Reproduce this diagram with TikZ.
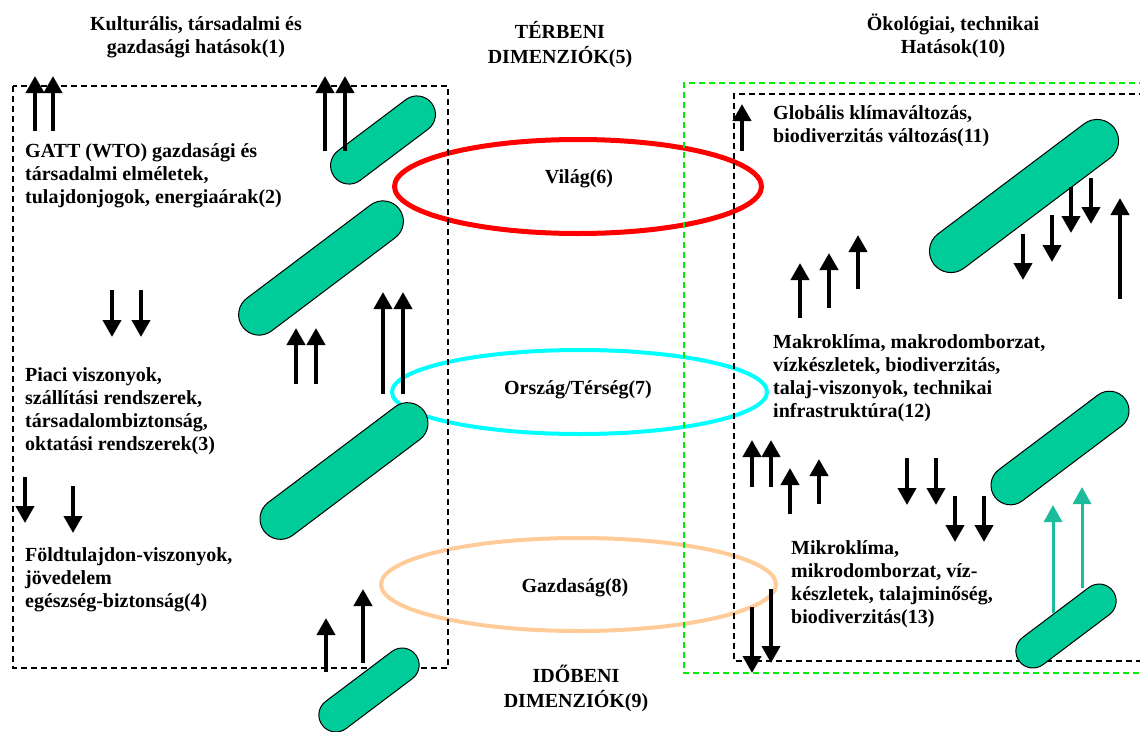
\documentclass[tikz,border=0pt]{standalone}
\usepackage{fontspec}
\setmainfont{Liberation Serif}
\usetikzlibrary{arrows.meta, shapes.geometric, shapes.misc}
\definecolor{capsgreen}{HTML}{00CC99}
\definecolor{teal}{HTML}{1ABC9C}
\definecolor{peach}{HTML}{FFCC99}
\definecolor{ringcyan}{HTML}{00FFFF}
\definecolor{boxgreen}{HTML}{00EE00}
\begin{document}
\begin{tikzpicture}[x=1pt, y=-1pt, font=\fontsize{20}{23}\selectfont\bfseries,
  every node/.style={inner sep=0pt},
  txt/.style={anchor=north west, align=left},
  ttl/.style={anchor=north, align=center},
  ring/.style={ellipse, line width=4pt},
  capsule/.style={rounded rectangle, draw, line width=1pt, fill=capsgreen, rotate=37},
  dbox/.style={line width=1.5pt, dash pattern=on 6pt off 4pt},
  arr/.style={line width=4pt, -{Triangle[length=17pt, width=18pt]}},
  tarr/.style={arr, line width=3pt, draw=teal, fill=teal}]
\useasboundingbox (0,0) rectangle (1140,731);
% titles
\node[ttl] (kult) at (196,14) {\strut Kulturális, társadalmi és\\ gazdasági hatások(1)};
\node[ttl] (terbeni) at (560,21) {\strut TÉRBENI\\ DIMENZIÓK(5)};
\node[ttl] (okol) at (953,14) {\strut Ökológiai, technikai\\ Hatások(10)};
\node[ttl] (idobeni) at (576,665) {\strut IDŐBENI\\ DIMENZIÓK(9)};
% rings
\node[ring, draw=red, line width=5pt, minimum width=367pt, minimum height=94pt] (vilag) at (578,186.5) {};
\node[ring, draw=ringcyan, minimum width=375pt, minimum height=84pt] (orszag) at (579.5,392) {};
\node[ring, draw=peach, minimum width=395pt, minimum height=93pt] (gazdasag) at (578.5,584.5) {};
\node (vilagtxt) at (579,179) {Világ(6)};
\node (orszagtxt) at (578,390) {Ország/Térség(7)};
\node (gazdasagtxt) at (575,588) {Gazdaság(8)};
% boxes
\draw[dbox] (13,86) rectangle (448,668);
\draw[dbox, boxgreen] (1145,83) -- (684,83) -- (684,673) -- (1145,673);
\draw[dbox] (1145,94) -- (734,94) -- (734,661) -- (1145,661);
% capsules
\node[capsule, minimum width=122pt, minimum height=37pt] (c1) at (383,140) {};
\node[capsule, minimum width=196pt, minimum height=41pt] (c2) at (321,268) {};
\node[capsule, minimum width=200pt, minimum height=41pt] (c3) at (344,471) {};
\node[capsule, minimum width=117pt, minimum height=34pt] (c4) at (369,690) {};
\node[capsule, minimum width=226pt, minimum height=43pt] (c5) at (1024,196) {};
\node[capsule, minimum width=163pt, minimum height=39pt] (c6) at (1060,448) {};
\node[capsule, minimum width=117pt, minimum height=34pt] (c7) at (1066,626) {};
% texts
\node[txt] (t2) at (25,141) {\strut GATT (WTO) gazdasági és\\ társadalmi elméletek,\\ tulajdonjogok, energiaárak(2)};
\node[txt] (t3) at (25,365) {\strut Piaci viszonyok,\\ szállítási rendszerek,\\ társadalombiztonság,\\ oktatási rendszerek(3)};
\node[txt] (t4) at (25,545) {\strut Földtulajdon-viszonyok,\\ jövedelem\\ egészség-biztonság(4)};
\node[txt] (t11) at (773,103) {\strut Globális klímaváltozás,\\ biodiverzitás változás(11)};
\node[txt] (t12) at (773,332) {\strut Makroklíma, makrodomborzat,\\ vízkészletek, biodiverzitás,\\ talaj-viszonyok, technikai\\ infrastruktúra(12)};
\node[txt] (t13) at (791,538) {\strut Mikroklíma,\\ mikrodomborzat, víz-\\ készletek, talajminőség,\\ biodiverzitás(13)};
% arrows, left
\foreach \x in {35,53,325,345} \draw[arr] (\x,{\x<100 ? 131 : 151}) -- (\x,76);
\foreach \x in {112,141} \draw[arr] (\x,290) -- (\x,337);
\foreach \x in {296,316} \draw[arr] (\x,384) -- (\x,328);
\foreach \x in {383,403} \draw[arr] (\x,394) -- (\x,292);
\draw[arr] (25,477) -- (25,523);
\draw[arr] (73,486) -- (73,533);
\draw[arr] (326,672) -- (326,618);
\draw[arr] (363,663) -- (363,589);
% arrows, right
\draw[arr] (742,151) -- (742,104);
\draw[arr] (800,318) -- (800,263);
\draw[arr] (829,308) -- (829,253);
\draw[arr] (858,289) -- (858,235);
\draw[arr] (1023,234) -- (1023,280);
\draw[arr] (1052,215) -- (1052,262);
\draw[arr] (1071,187) -- (1071,233);
\draw[arr] (1091,178) -- (1091,224);
\draw[arr] (1120,299) -- (1120,198);
\foreach \x in {752,771} \draw[arr] (\x,487) -- (\x,440);
\draw[arr] (790,514) -- (790,468);
\draw[arr] (819,504) -- (819,459);
\foreach \x in {907,936} \draw[arr] (\x,458) -- (\x,505);
\foreach \x in {955,984} \draw[arr] (\x,496) -- (\x,542);
\draw[arr] (752,607) -- (752,673);
\draw[arr] (771,589) -- (771,663);
\draw[tarr] (1053,613) -- (1053,505);
\draw[tarr] (1082,588) -- (1082,487);
\end{tikzpicture}
\end{document}
